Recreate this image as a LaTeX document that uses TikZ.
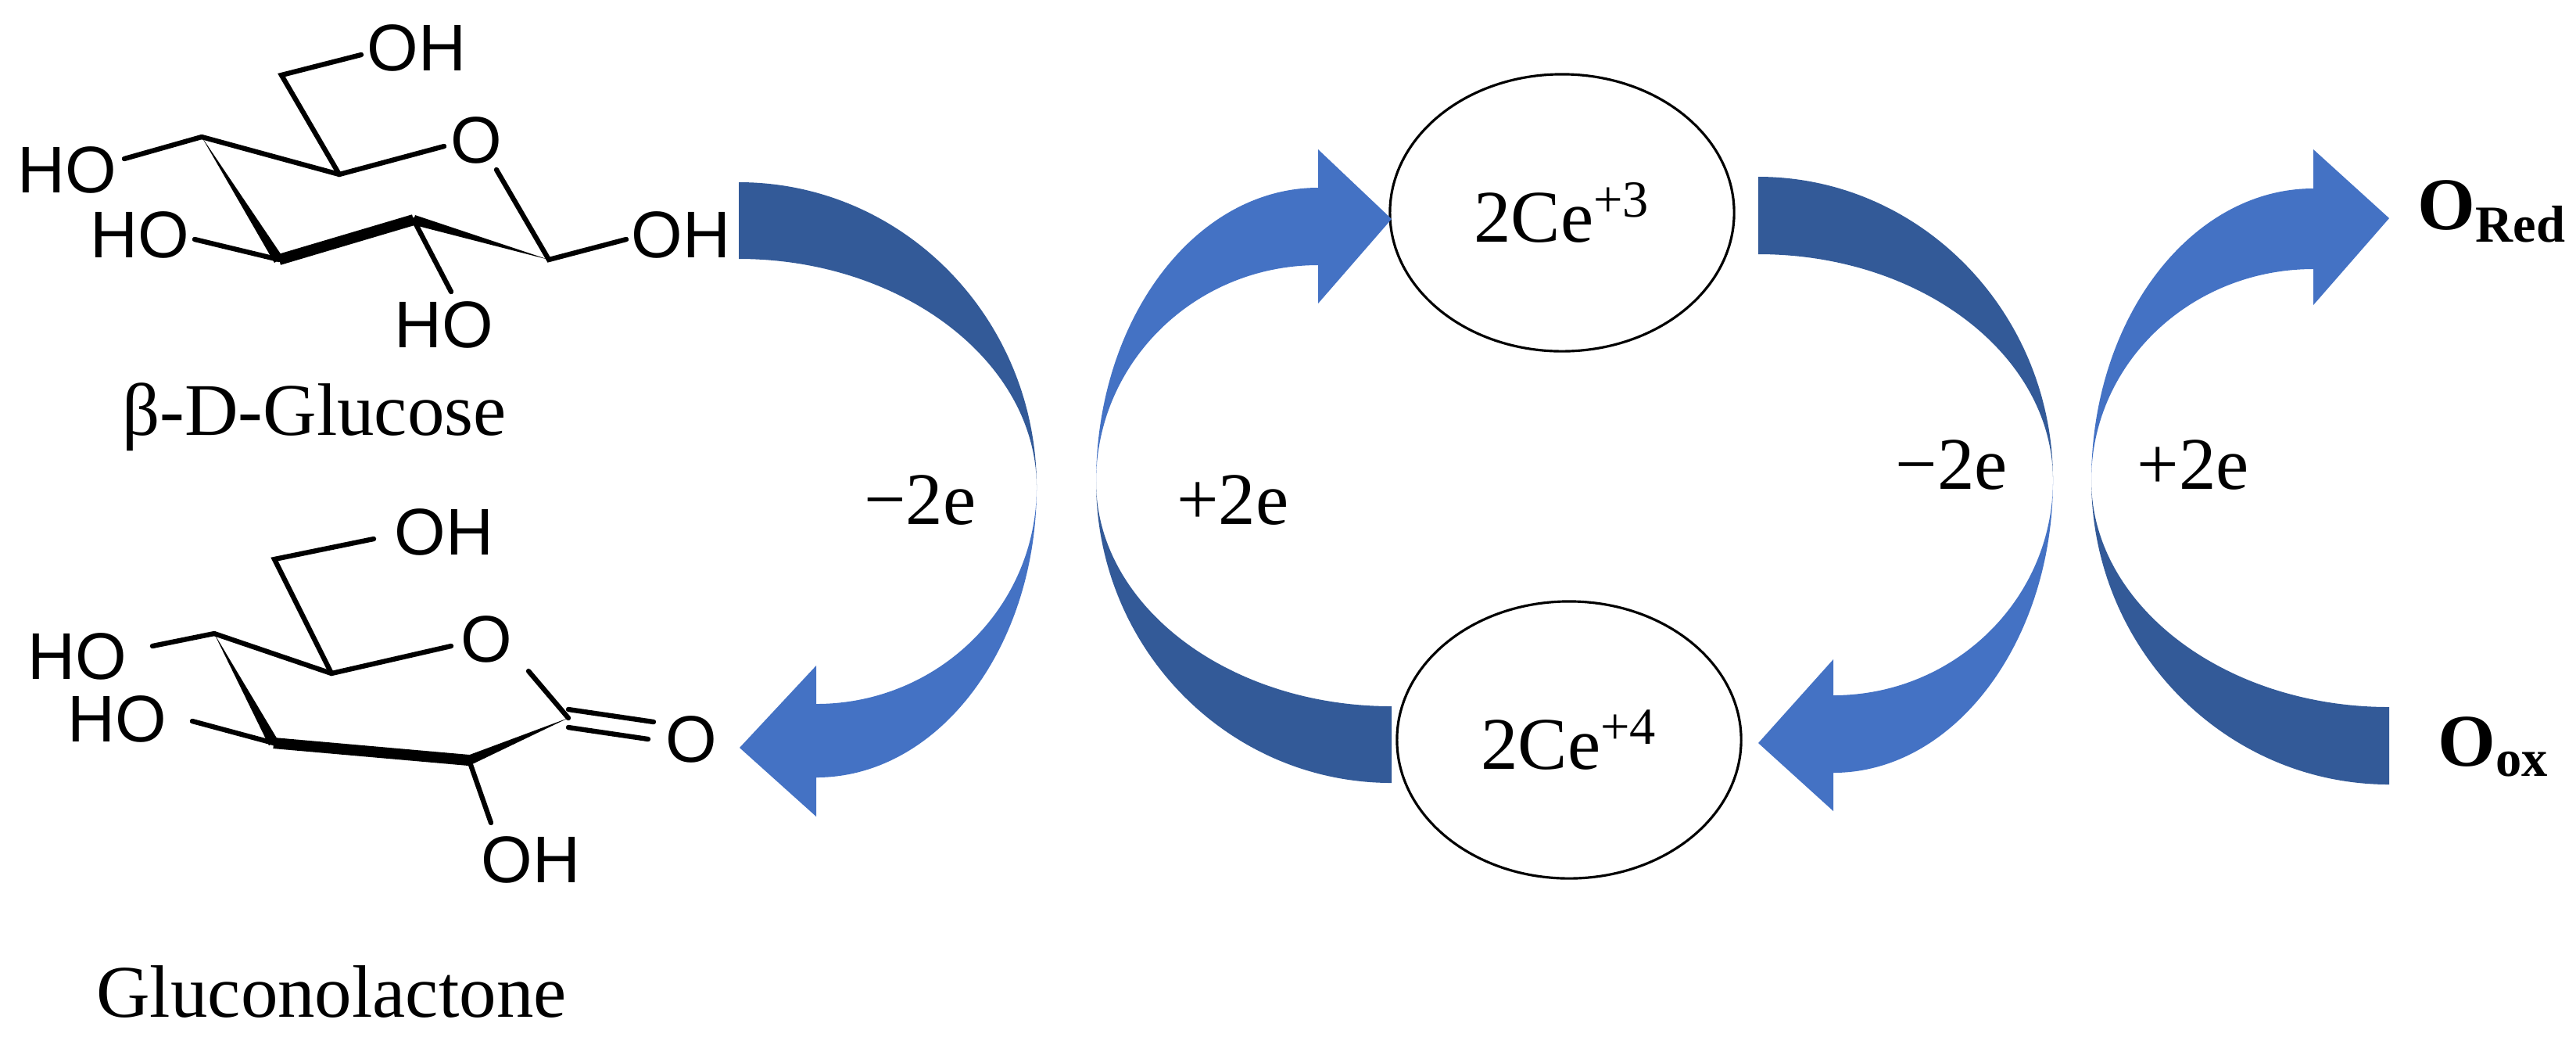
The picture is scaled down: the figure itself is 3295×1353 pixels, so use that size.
\documentclass[tikz,border=0pt]{standalone}
\usepackage{fontspec}
\usetikzlibrary{shapes.geometric}
\setmainfont{Liberation Serif}
\newfontfamily\chem{Liberation Sans}
\begin{document}
\begin{tikzpicture}[x=0.01cm,y=-0.01cm,
  bond/.style={line width=1.8pt,line cap=round},
  thick bond/.style={line width=4pt,line join=miter},
  atom/.style={inner sep=0pt,font=\chem\fontsize{24}{27}\selectfont},
  lbl/.style={inner sep=0pt,font=\fontsize{27}{32}\selectfont},
  dark/.style={fill=arrowdark,draw=none},
  light/.style={fill=arrowlight,draw=none},
  ce/.style={draw,ellipse,line width=0.9pt,minimum width=4.4cm,minimum height=3.54cm,inner sep=0pt,font=\fontsize{27}{32}\selectfont}]
\definecolor{arrowdark}{HTML}{335A98}
\definecolor{arrowlight}{HTML}{4472C4}
\useasboundingbox (0,0) rectangle (3295,1353);

% ---------- beta-D-Glucose ----------
\coordinate (gC4) at (258,175); \coordinate (gC5) at (434,223);
\coordinate (gC1) at (702,332); \coordinate (gC2) at (529,281);
\coordinate (gC3) at (357,332); \coordinate (gC6) at (360,96);
\node[atom] (gOH6) at (533,61) {OH};
\node[atom] (gO) at (609,179) {O};
\node[atom] (gHO4) at (86,217) {HO};
\node[atom] (gHO3) at (179,300) {HO};
\node[atom] (gOH1) at (871,300) {OH};
\node[atom] (gHO2) at (568,415) {HO};
\node[lbl] (glc) at (402,533) {β-D-Glucose};
\draw[bond] (gC4) -- (gC5) -- (568,187);
\draw[bond] (635,217) -- (gC1) -- (801,306);
\draw[bond] (gC5) -- (gC6) -- (462,70);
\draw[bond] (gC4) -- (159,203);
\draw[bond] (gC3) -- (249,306);
\draw[bond] (gC2) -- (577,373);
\fill (gC1) -- (531,275) -- (527,287) -- cycle;
\draw[thick bond] (gC2) -- (gC3);
\fill (gC4) -- (362,329) -- (351,336) -- cycle;

% ---------- Gluconolactone ----------
\coordinate (lC4) at (274,810); \coordinate (lC5) at (424,861);
\coordinate (lC1) at (727,918); \coordinate (lC2) at (600,972);
\coordinate (lC3) at (350,950); \coordinate (lC6) at (351,715);
\node[atom] (lOH6) at (568,680) {OH};
\node[atom] (lO) at (622,817) {O};
\node[atom] (lHO4) at (99,839) {HO};
\node[atom] (lHO3) at (150,919) {HO};
\node[atom] (lOH2) at (679,1099) {OH};
\node[atom] (lOc) at (884,945) {O};
\node[lbl] (gln) at (424,1268) {Gluconolactone};
\draw[bond] (lC4) -- (lC5) -- (577,826);
\draw[bond] (676,858) -- (lC1);
\draw[bond] (727,907) -- (836,923);
\draw[bond] (727,930) -- (829,945);
\draw[bond] (lC5) -- (lC6) -- (478,689);
\draw[bond] (lC4) -- (195,826);
\draw[bond] (lC3) -- (246,922);
\draw[bond] (lC2) -- (628,1052);
\fill (lC1) -- (602,978) -- (598,966) -- cycle;
\draw[thick bond] (lC2) -- (lC3);
\fill (lC4) -- (356,947) -- (344,953) -- cycle;

% ---------- Ce ellipses ----------
\node[ce] (ce3) at (1998,272) {2Ce\textsuperscript{+3}};
\node[ce] (ce4) at (2007,946) {2Ce\textsuperscript{+4}};

% ---------- arrow 1 (-2e) ----------
\fill[dark] (945,233) .. controls (1156,233) and (1326,408) .. (1326,623)
  .. controls (1326,462) and (1153,331) .. (945,331) -- cycle;
\fill[light] (1326,623) .. controls (1326,828) and (1200,994) .. (1044,994)
  -- (1044,1044) -- (946,956) -- (1044,851) -- (1044,900)
  .. controls (1200,900) and (1326,776) .. (1326,623) -- cycle;
\node[lbl] (m1) at (1177,640) {−2e};

% ---------- arrow 2 (+2e) ----------
\fill[light] (1402,616) .. controls (1402,408) and (1529,240) .. (1686,240)
  -- (1686,191) -- (1780,280) -- (1686,388) -- (1686,339)
  .. controls (1529,339) and (1402,463) .. (1402,616) -- cycle;
\fill[dark] (1402,616) .. controls (1402,829) and (1571,1001) .. (1780,1001)
  -- (1780,903) .. controls (1571,903) and (1402,774) .. (1402,616) -- cycle;
\node[lbl] (p1) at (1577,640) {+2e};

% ---------- arrow 3 (-2e) ----------
\fill[dark] (2249,226) .. controls (2457,226) and (2626,400) .. (2626,614)
  .. controls (2626,454) and (2457,325) .. (2249,325) -- cycle;
\fill[light] (2626,614) .. controls (2626,820) and (2500,988) .. (2345,988)
  -- (2345,1037) -- (2249,950) -- (2345,843) -- (2345,889)
  .. controls (2500,889) and (2626,766) .. (2626,614) -- cycle;
\node[lbl] (m2) at (2496,595) {−2e};

% ---------- arrow 4 (+2e) ----------
\fill[light] (2675,614) .. controls (2675,408) and (2802,241) .. (2959,241)
  -- (2959,191) -- (3056,279) -- (2959,390) -- (2959,344)
  .. controls (2802,344) and (2675,465) .. (2675,614) -- cycle;
\fill[dark] (2675,614) .. controls (2675,829) and (2846,1003) .. (3056,1003)
  -- (3056,904) .. controls (2846,904) and (2675,774) .. (2675,614) -- cycle;
\node[lbl] (p2) at (2805,595) {+2e};

% ---------- O labels ----------
\node[lbl,anchor=west] (ored) at (3092,270) {\textbf{O\textsubscript{Red}}};
\node[lbl,anchor=west] (oox) at (3118,955) {\textbf{O\textsubscript{ox}}};
\end{tikzpicture}
\end{document}
